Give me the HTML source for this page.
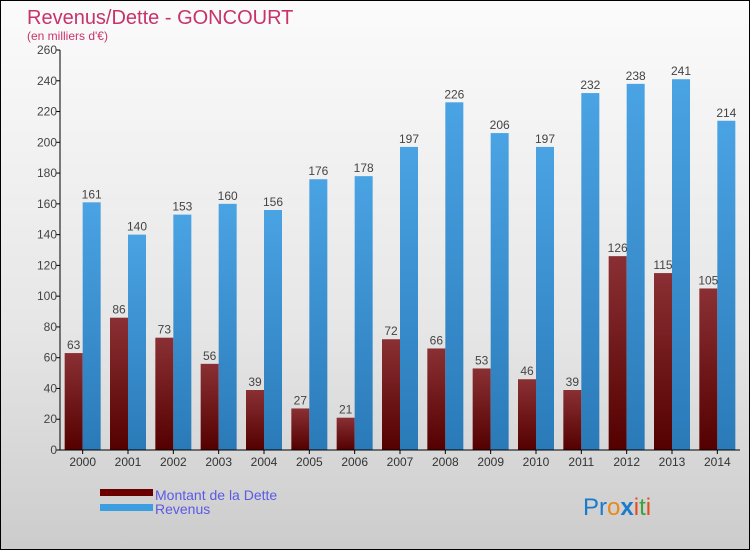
<!DOCTYPE html>
<html><head><meta charset="utf-8"><style>
body{margin:0}
#c{width:750px;height:550px;position:relative;box-sizing:border-box;border:1px solid #000;background:linear-gradient(#fbfbfb,#e6e6e6 60%,#cccccc);font-family:"Liberation Sans",sans-serif;overflow:hidden}
</style></head><body>
<div id="c">
<svg width="750" height="550" style="position:absolute;left:-1px;top:-1px;font-family:'Liberation Sans',sans-serif">
<defs>
<linearGradient id="gd" x1="0" y1="0" x2="0" y2="1"><stop offset="0" stop-color="#8a3034"/><stop offset="1" stop-color="#540000"/></linearGradient>
<linearGradient id="gr" x1="0" y1="0" x2="0" y2="1"><stop offset="0" stop-color="#4aa3e3"/><stop offset="1" stop-color="#2a7ab8"/></linearGradient>
</defs>
<text x="27" y="24" font-size="20" fill="#c8336a">Revenus/Dette - GONCOURT</text>
<text x="27" y="40" font-size="12" fill="#c8336a">(en milliers d'€)</text>
<g id="plot"></g>
<rect x="100" y="489" width="53" height="7" fill="#6a0000"/>
<rect x="100" y="504" width="53" height="7" fill="#3a9ee0"/>
<text x="155" y="500" font-size="14" fill="#5a5ae6">Montant de la Dette</text>
<text x="155" y="514" font-size="14" fill="#5a5ae6">Revenus</text>
<text x="583" y="515" font-size="24"><tspan fill="#1a7acc">Pr</tspan><tspan fill="#e8891a">o</tspan><tspan fill="#1a7acc" font-weight="bold">x</tspan><tspan fill="#e84a1a">i</tspan><tspan fill="#3aa53a">t</tspan><tspan fill="#e84a1a">i</tspan></text>
</svg>
</div>
<script>
const years=["2000","2001","2002","2003","2004","2005","2006","2007","2008","2009","2010","2011","2012","2013","2014"];
const dette=[63,86,73,56,39,27,21,72,66,53,46,39,126,115,105];
const revenus=[161,140,153,160,156,176,178,197,226,206,197,232,238,241,214];
const ticks=[0,20,40,60,80,100,120,140,160,180,200,220,240,260];
const NS="http://www.w3.org/2000/svg";
const g=document.getElementById('plot');
const x0=60,x1=740,y0=450,y1=50,ymax=260;
const y=v=>y0-(v/ymax)*(y0-y1);
const cw=(x1-x0)/years.length;
const cx=i=>x0+cw*(i+0.5);
function el(t,a,txt){const e=document.createElementNS(NS,t);for(const k in a)e.setAttribute(k,a[k]);if(txt!=null)e.textContent=txt;g.appendChild(e);return e;}
years.forEach((yr,i)=>{
  const c=cx(i);
  const b1=el('rect',{x:c-18,y:y(dette[i]),width:18,height:y0-y(dette[i]),fill:'url(#gd)'});
  
  
  const b2=el('rect',{x:c,y:y(revenus[i]),width:18,height:y0-y(revenus[i]),fill:'url(#gr)'});
  
  
  const l1=el('text',{x:c-9,y:y(dette[i])-4,'font-size':12,fill:'#444','text-anchor':'middle'},String(dette[i]));
  
  
  const l2=el('text',{x:c+9,y:y(revenus[i])-4,'font-size':12,fill:'#444','text-anchor':'middle'},String(revenus[i]));
  
  
  const xl=el('text',{x:c,y:466,'font-size':12,fill:'#333','text-anchor':'middle'},yr);
  
  
  el('line',{x1:c,x2:c,y1:y0,y2:y0+4,stroke:'#000'});
});
ticks.forEach(t=>{
  el('line',{x1:x0-4,x2:x0,y1:y(t),y2:y(t),stroke:'#000'});
  const tl=el('text',{x:x0-3,y:y(t)+4,'font-size':12,fill:'#444','text-anchor':'end'},String(t));
  
  
});
const ya=el('line',{x1:x0,x2:x0,y1:y1,y2:y0,stroke:'#000'});


const xa=el('line',{x1:x0,x2:x1,y1:y0,y2:y0,stroke:'#000'});


</script>
</body></html>
